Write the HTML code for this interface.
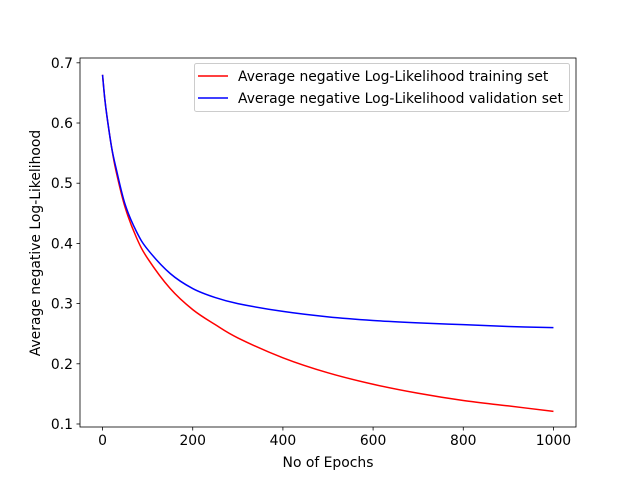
<!DOCTYPE html>
<html><head><meta charset="utf-8"><style>
body{margin:0;background:#fff}
text{font-family:"DejaVu Sans","Liberation Sans",sans-serif;font-size:13.9px;fill:#000}
</style></head><body>
<svg id="chart" width="640" height="480" xmlns="http://www.w3.org/2000/svg">
<rect width="640" height="480" fill="#fff"/>
<g id="plot"></g>
</svg>
<script>
const epochs=[0,5,10,20,30,50,75,100,150,200,250,300,400,500,600,700,800,900,1000];
const trainLoss=[0.68,0.64,0.61,0.56,0.52,0.46,0.41,0.375,0.325,0.29,0.265,0.243,0.21,0.185,0.166,0.151,0.139,0.13,0.121];
const valLoss=[0.68,0.64,0.61,0.56,0.525,0.465,0.42,0.39,0.35,0.325,0.31,0.30,0.287,0.278,0.272,0.268,0.265,0.262,0.26];
const xTicks=[0,200,400,600,800,1000];
const yTicks=[0.1,0.2,0.3,0.4,0.5,0.6,0.7];
const L=80,R=576,T=58,B=427;
const xMin=-50,xMax=1050,yMin=0.095,yMax=0.708;
const sx=v=>L+(v-xMin)/(xMax-xMin)*(R-L);
const sy=v=>B-(v-yMin)/(yMax-yMin)*(B-T);
const NS='http://www.w3.org/2000/svg';
const g=document.getElementById('plot');
function mk(tag,attrs,txt){const e=document.createElementNS(NS,tag);for(const k in attrs)e.setAttribute(k,attrs[k]);if(txt!==undefined)e.textContent=txt;g.appendChild(e);return e;}
function smooth(xs,ys){
 const p=xs.map((x,i)=>[sx(x),sy(ys[i])]);
 let d='M'+p[0][0]+','+p[0][1];
 for(let i=0;i<p.length-1;i++){
  const p0=p[Math.max(0,i-1)],p1=p[i],p2=p[i+1],p3=p[Math.min(p.length-1,i+2)];
  const c1=[p1[0]+(p2[0]-p0[0])/6,p1[1]+(p2[1]-p0[1])/6];
  const c2=[p2[0]-(p3[0]-p1[0])/6,p2[1]-(p3[1]-p1[1])/6];
  d+=' C'+c1+' '+c2+' '+p2;
 }
 return d;
}
let e;
e=mk('path',{d:smooth(epochs,trainLoss),fill:'none',stroke:'#ff0000','stroke-width':1.5});


e=mk('path',{d:smooth(epochs,valLoss),fill:'none',stroke:'#0000ff','stroke-width':1.5});


e=mk('rect',{x:L,y:T,width:R-L,height:B-T,fill:'none',stroke:'#000','stroke-width':0.8});


xTicks.forEach(t=>{
 e=mk('line',{x1:sx(t),x2:sx(t),y1:B,y2:B+3.5,stroke:'#000','stroke-width':0.8});
 
 
 e=mk('text',{x:sx(t),y:B+18,'text-anchor':'middle'},String(t));
 
 
});
yTicks.forEach(t=>{
 e=mk('line',{x1:L-3.5,x2:L,y1:sy(t),y2:sy(t),stroke:'#000','stroke-width':0.8});
 
 
 e=mk('text',{x:L-7,y:sy(t)+5,'text-anchor':'end'},t.toFixed(1));
 
 
});
e=mk('text',{x:(L+R)/2,y:467,'text-anchor':'middle'},'No of Epochs');


e=mk('text',{x:0,y:0,'text-anchor':'middle',transform:'translate(40,243) rotate(-90)'},'Average negative Log-Likelihood');


e=mk('rect',{x:194.5,y:63.5,width:375,height:48,rx:2,fill:'#fff','fill-opacity':0.8,stroke:'#ccc'});


e=mk('line',{x1:198,x2:228,y1:76,y2:76,stroke:'#ff0000','stroke-width':1.5});


e=mk('text',{x:238,y:81},'Average negative Log-Likelihood training set');


e=mk('line',{x1:198,x2:228,y1:98,y2:98,stroke:'#0000ff','stroke-width':1.5});


e=mk('text',{x:238,y:103},'Average negative Log-Likelihood validation set');


</script>
</body></html>
